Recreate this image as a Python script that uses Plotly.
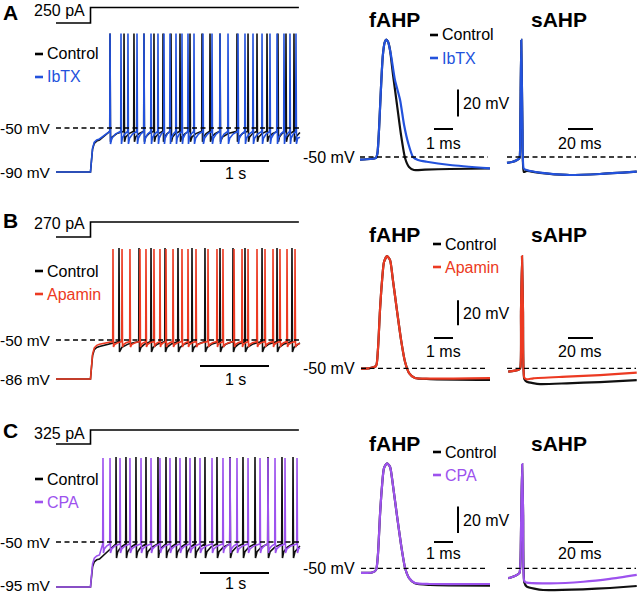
import plotly.graph_objects as go

W, H = 640, 593
FONT = "Liberation Sans, Arial, Helvetica, sans-serif"

# ------------------------------------------------------------------ data
panel_letters = ["A", "B", "C"]
drug_names = ["IbTX", "Apamin", "CPA"]
step_amps_pA = [250, 270, 325]
hold_mV = [-90, -86, -95]
step_on_s = 0.5
trace_end_s = 3.535
stim_end_s = 3.52

# spike times (s) during the current step
spikes_ctrl_A = [0.783, 0.986, 1.130, 1.275, 1.420, 1.551, 1.667, 1.797, 1.942, 2.116,
                 2.232, 2.377, 2.623, 2.783, 2.913, 3.058, 3.217, 3.333, 3.449]
spikes_drug_A = [0.783, 0.942, 1.043, 1.174, 1.275, 1.377, 1.478, 1.565, 1.652, 1.739,
                 1.826, 1.913, 2.000, 2.130, 2.261, 2.377, 2.493, 2.638, 2.739, 2.855,
                 2.986, 3.101, 3.203, 3.304, 3.391, 3.478]
spikes_ctrl_B = [0.913, 1.203, 1.377, 1.580, 1.768, 1.971, 2.159, 2.377, 2.565, 2.739,
                 2.986, 3.203, 3.420]
spikes_drug_B = [0.826, 0.957, 1.072, 1.217, 1.304, 1.420, 1.507, 1.594, 1.696, 1.826,
                 1.913, 2.029, 2.203, 2.333, 2.420, 2.580, 2.696, 2.783, 2.913, 3.029,
                 3.145, 3.246, 3.348, 3.464]
spikes_ctrl_C = [0.870, 1.014, 1.159, 1.304, 1.478, 1.594, 1.739, 1.884, 2.014, 2.159,
                 2.333, 2.522, 2.710, 2.884, 3.072, 3.275, 3.435]
spikes_drug_C = [0.681, 0.783, 0.928, 1.072, 1.232, 1.377, 1.507, 1.652, 1.797, 1.942,
                 2.087, 2.261, 2.420, 2.522, 2.623, 2.783, 2.957, 3.072, 3.174, 3.319,
                 3.493]

# membrane levels (mV): plateau after step, spike threshold, AHP trough, spike peak
levels_ctrl_A = [-61, -53, -62.5, 36]
levels_drug_A = [-60, -53, -64.5, 36]
levels_ctrl_B = [-56, -51.5, -61, 35]
levels_drug_B = [-54, -51.5, -56.5, 34]
levels_ctrl_C = [-67, -52, -66, 35]
levels_drug_C = [-63, -52, -61, 34]

# fAHP single spikes (ms, mV)
fahp_t_ctrl_A = [0, 0.53, 0.84, 0.92, 1.0, 1.1, 1.2, 1.3, 1.38, 1.47, 1.58, 1.74, 1.95, 2.16, 2.37, 2.58, 2.84, 3.42, 4.74, 6.84]
fahp_v_ctrl_A = [-51.9, -51.5, -50.7, -47, -30, 0, 25, 35, 37, 35.5, 29.3, 10.7, -11.5, -33.7, -50.7, -57.4, -59.6, -59.3, -58.9, -58.5]
fahp_t_drug_A = [0, 0.53, 0.84, 0.92, 1.0, 1.1, 1.2, 1.3, 1.38, 1.47, 1.63, 1.84, 2.11, 2.32, 2.54, 2.79, 3.05, 3.51, 4.74, 6.84]
fahp_v_drug_A = [-51.9, -51.5, -50.7, -47, -30, 0, 25, 35, 37, 35.5, 25.6, 7, -7.8, -26.3, -39.9, -50, -52.2, -53.5, -55.9, -58.4]

fahp_t_ctrl_B = [0, 0.47, 0.79, 0.89, 1.0, 1.11, 1.21, 1.37, 1.53, 1.68, 1.89, 2.11, 2.32, 2.53, 2.84, 3.63, 6.79]
fahp_v_ctrl_B = [-50.2, -49.8, -48.2, -35.4, -3.4, 20.6, 35, 39.8, 36.6, 20.6, -3.4, -27.4, -45, -53.8, -57.8, -58.6, -59.2]
fahp_t_drug_B = [0, 0.47, 0.79, 0.89, 1.0, 1.11, 1.21, 1.37, 1.53, 1.68, 1.89, 2.11, 2.32, 2.53, 2.84, 3.63, 6.79]
fahp_v_drug_B = [-50.2, -49.8, -48.2, -35.4, -3.4, 20.6, 35, 39.8, 36.6, 20.6, -3.4, -27.4, -45, -53.8, -57.8, -58.2, -57.8]

fahp_t_ctrl_C = [0, 0.58, 0.79, 0.89, 1.0, 1.11, 1.21, 1.37, 1.53, 1.68, 1.89, 2.11, 2.32, 2.53, 2.84, 3.63, 6.79]
fahp_v_ctrl_C = [-53.5, -53.2, -51.3, -40, -10, 12.6, 25.4, 29, 26.2, 12.6, -10, -32.5, -49.8, -57.3, -61.3, -62.5, -63]
fahp_t_drug_C = [0, 0.58, 0.79, 0.89, 1.0, 1.11, 1.21, 1.37, 1.53, 1.68, 1.89, 2.11, 2.32, 2.53, 2.84, 3.63, 6.79]
fahp_v_drug_C = [-53.5, -53.2, -51.3, -40, -10, 12.6, 25.4, 29, 26.2, 12.6, -10, -32.5, -49.8, -57.3, -61.1, -61.8, -61.8]

# sAHP (ms, mV)
sahp_t_ctrl_A = [0, 4, 8, 10, 10.6, 11.4, 12.4, 13.4, 15.8, 26.4, 47.8, 74.4, 103.8]
sahp_v_ctrl_A = [-54.4, -53.7, -52.2, -50.7, -30, 36.7, -30, -61, -60.3, -61.8, -63.3, -62.6, -60.9]
sahp_t_drug_A = [0, 4, 8, 10, 10.6, 11.4, 12.4, 13.4, 15.8, 26.4, 47.8, 74.4, 103.8]
sahp_v_drug_A = [-54.4, -53.7, -52.2, -50.7, -30, 36.7, -30, -58.5, -59.6, -61.6, -63.3, -62.6, -60.9]

sahp_t_ctrl_B = [1, 8.8, 10.6, 11.2, 12.0, 12.8, 13.8, 15.8, 26.4, 47.8, 74.4, 103.8]
sahp_v_ctrl_B = [-52.7, -51.4, -49.8, -5, 39.8, -5, -58.5, -60.7, -62.6, -62, -61, -59.4]
sahp_t_drug_B = [1, 8.8, 10.6, 11.2, 12.0, 12.8, 13.8, 15.8, 21, 47.8, 74.4, 103.8]
sahp_v_drug_B = [-52.7, -51.4, -49.8, -5, 39.8, -5, -57.5, -58.8, -58, -56.7, -55.4, -53.5]

sahp_t_ctrl_C = [1, 6.4, 10, 10.8, 11.4, 12.1, 12.9, 13.8, 15.8, 28.8, 60.8, 82.4, 103.8]
sahp_v_ctrl_C = [-57.5, -55.8, -53.5, -43.8, -10, 28.4, -10, -60.5, -63.8, -66.3, -65.8, -64.8, -63.3]
sahp_t_drug_C = [1, 6.4, 10, 10.8, 11.4, 12.1, 12.9, 13.8, 15.8, 34.4, 61, 82.4, 103.8]
sahp_v_drug_C = [-57.5, -55.8, -53.5, -43.8, -10, 28.4, -10, -59.5, -60.8, -61.3, -60.1, -58, -55]

# ------------------------------------------------------------------ styles / geometry
drug_colors = ["#2352dc", "#ec3a22", "#9d52ee"]
CTRL = "#101010"

ROWS = [
    dict(stim_py=(0, 32), stim_lo=23, stim_hi=7.5, lab_py=10, main_py=(25, 185), main_ref=128, main_k=1.1,
         ap_py=(25, 185), ap_ref=157, ap_k=1.35, f_t0=360, leg_py=(54, 77), fleg_py=(35, 58),
         fleg_px=430, title_py=20, sbar_mv=(-20, 0), bar_py=129, bar_lab_py=143, sbar_lab_py=103,
         onesec_py=161, onesec_lab_py=174, hold_py=172, letter_top=0),
    dict(stim_py=(205, 245), stim_lo=237, stim_hi=222, lab_py=223, main_py=(240, 392), main_ref=340, main_k=1.083,
         ap_py=(240, 392), ap_ref=368.3, ap_k=1.25, f_t0=361, leg_py=(271, 294), fleg_py=(244, 267),
         fleg_px=433, title_py=235, sbar_mv=(-15.5, 4.5), bar_py=338, bar_lab_py=351, sbar_lab_py=313,
         onesec_py=366, onesec_lab_py=379, hold_py=379, letter_top=208),
    dict(stim_py=(415, 452), stim_lo=444, stim_hi=430, lab_py=433, main_py=(450, 593), main_ref=542, main_k=1.0,
         ap_py=(450, 593), ap_ref=568.3, ap_k=1.33, f_t0=361, leg_py=(479, 502), fleg_py=(452, 475),
         fleg_px=433, title_py=443, sbar_mv=(-23.5, -3.5), bar_py=542, bar_lab_py=553, sbar_lab_py=520,
         onesec_py=573, onesec_lab_py=583, hold_py=585, letter_top=418),
]
MAIN_X = (50, 305); MAIN_T0 = 56; MAIN_K = 69.0      # px per s
FAHP_X = (352, 496); FAHP_K = 19.0                   # px per ms
SAHP_X = (500, 640); SAHP_T0 = 507; SAHP_K = 1.25    # px per ms

spikes_ctrl = [spikes_ctrl_A, spikes_ctrl_B, spikes_ctrl_C]
spikes_drug = [spikes_drug_A, spikes_drug_B, spikes_drug_C]
levels_ctrl = [levels_ctrl_A, levels_ctrl_B, levels_ctrl_C]
levels_drug = [levels_drug_A, levels_drug_B, levels_drug_C]
fahp_ctrl = [(fahp_t_ctrl_A, fahp_v_ctrl_A), (fahp_t_ctrl_B, fahp_v_ctrl_B), (fahp_t_ctrl_C, fahp_v_ctrl_C)]
fahp_drug = [(fahp_t_drug_A, fahp_v_drug_A), (fahp_t_drug_B, fahp_v_drug_B), (fahp_t_drug_C, fahp_v_drug_C)]
sahp_ctrl = [(sahp_t_ctrl_A, sahp_v_ctrl_A), (sahp_t_ctrl_B, sahp_v_ctrl_B), (sahp_t_ctrl_C, sahp_v_ctrl_C)]
sahp_drug = [(sahp_t_drug_A, sahp_v_drug_A), (sahp_t_drug_B, sahp_v_drug_B), (sahp_t_drug_C, sahp_v_drug_C)]


def build_train(spikes, v_hold, lev):
    """Membrane trace assembled from the read spike times and levels."""
    v_plat, v_thr, v_tr, v_pk = lev
    t = [0.0, step_on_s]
    v = [v_hold, v_hold]
    d = v_plat - v_hold
    for dt, f in [(0.012, 0.3), (0.03, 0.72), (0.055, 0.9), (0.09, 0.97), (0.13, 1.0)]:
        t.append(step_on_s + dt)
        v.append(v_hold + f * d)
    for i, s in enumerate(spikes):
        t += [s - 0.004, s, s + 0.007]
        v += [v_thr, v_pk, v_tr]
        nxt = spikes[i + 1] if i + 1 < len(spikes) else trace_end_s + 0.08
        isi = nxt - s
        for frac, lv in [(0.12, 0.45), (0.45, 0.78)]:
            tt = s + 0.007 + frac * isi
            if tt < trace_end_s:
                t.append(tt)
                v.append(v_tr + lv * (v_thr - v_tr))
    if t[-1] < trace_end_s:
        t.append(trace_end_s)
        v.append(v[-1] + 1.0)
    return t, v


fig = go.Figure()
layout = {}
axis_count = [0]


def add_axes(xdom, x0, xk, ydom, yref_py, yref_v, yk):
    axis_count[0] += 1
    n = axis_count[0]
    xn = "x" if n == 1 else f"x{n}"
    yn = "y" if n == 1 else f"y{n}"
    layout["xaxis" if n == 1 else f"xaxis{n}"] = dict(
        domain=[xdom[0] / W, xdom[1] / W],
        range=[(xdom[0] - x0) / xk, (xdom[1] - x0) / xk],
        visible=False, anchor=yn, fixedrange=True)
    layout["yaxis" if n == 1 else f"yaxis{n}"] = dict(
        domain=[1 - ydom[1] / H, 1 - ydom[0] / H],
        range=[yref_v - (ydom[1] - yref_py) / yk, yref_v + (yref_py - ydom[0]) / yk],
        visible=False, anchor=xn, fixedrange=True)
    return xn, yn


annotations = []
shapes = []


def label(text, px, py, xanchor="center", size=16, color="black", yanchor="middle"):
    annotations.append(dict(text=text, x=px / W, y=1 - py / H, xref="paper", yref="paper",
                            xanchor=xanchor, yanchor=yanchor, showarrow=False, borderpad=0,
                            font=dict(family=FONT, size=size, color=color)))


def legend_entry(text, px, py, color):
    # short thick colored dash followed by the label
    shapes.append(dict(type="line", xref="paper", yref="paper", x0=px / W, x1=(px + 8) / W,
                       y0=1 - py / H, y1=1 - py / H, line=dict(color=color, width=2.6)))
    label(text, px + 11, py, xanchor="left", color=color)


def line_shape(xn, yn, x0, y0, x1, y1, width=2, dash=None):
    ln = dict(color="black", width=width)
    if dash:
        ln["dash"] = dash
    shapes.append(dict(type="line", xref=xn, yref=yn, x0=x0, y0=y0, x1=x1, y1=y1, line=ln))


DASH = "5px,3.5px"

for r, g in enumerate(ROWS):
    col = drug_colors[r]
    # --- stimulus step
    xs, ys = add_axes(MAIN_X, MAIN_T0, MAIN_K, g["stim_py"], g["stim_lo"], 0.0,
                      (g["stim_lo"] - g["stim_hi"]) / step_amps_pA[r])
    fig.add_trace(go.Scatter(x=[0, step_on_s, step_on_s, stim_end_s],
                             y=[0, 0, step_amps_pA[r], step_amps_pA[r]],
                             xaxis=xs, yaxis=ys, mode="lines", line=dict(color="black", width=1.6),
                             showlegend=False, hoverinfo="skip"))
    label(f"{step_amps_pA[r]} pA", 86, g["lab_py"], xanchor="right")
    label(f"<b>{panel_letters[r]}</b>", 10, g["letter_top"], size=21, yanchor="top")

    # --- firing trace
    xm, ym = add_axes(MAIN_X, MAIN_T0, MAIN_K, g["main_py"], g["main_ref"], -50.0, g["main_k"])
    line_shape(xm, ym, 0, -50, trace_end_s, -50, width=1.3, dash=DASH)
    for spk, lev, c in [(spikes_ctrl[r], levels_ctrl[r], CTRL), (spikes_drug[r], levels_drug[r], col)]:
        t, v = build_train(spk, hold_mV[r], lev)
        fig.add_trace(go.Scatter(x=t, y=v, xaxis=xm, yaxis=ym, mode="lines",
                                 line=dict(color=c, width=1.6), showlegend=False, hoverinfo="skip"))
    bar_v = -50 - (g["onesec_py"] - g["main_ref"]) / g["main_k"]
    line_shape(xm, ym, 2.087, bar_v, 3.087, bar_v, width=2)
    label("1 s", 235, g["onesec_lab_py"])
    label("-50 mV", 52, g["main_ref"], xanchor="right", size=15.5)
    label(f"{hold_mV[r]} mV", 52, g["hold_py"], xanchor="right", size=15.5)
    legend_entry("Control", 35, g["leg_py"][0], "black")
    legend_entry(drug_names[r], 35, g["leg_py"][1], col)

    # --- fAHP
    xf, yf = add_axes(FAHP_X, g["f_t0"], FAHP_K, g["ap_py"], g["ap_ref"], -50.0, g["ap_k"])
    line_shape(xf, yf, 0, -50, (488 - g["f_t0"]) / FAHP_K, -50, width=1.3, dash=DASH)
    for (tt, vv), c in [(fahp_ctrl[r], CTRL), (fahp_drug[r], col)]:
        fig.add_trace(go.Scatter(x=tt, y=vv, xaxis=xf, yaxis=yf, mode="lines",
                                 line=dict(color=c, width=2.2, shape="spline", smoothing=0.6),
                                 showlegend=False, hoverinfo="skip"))
    tb = (458 - g["f_t0"]) / FAHP_K
    line_shape(xf, yf, tb, g["sbar_mv"][0], tb, g["sbar_mv"][1], width=2)
    bv = -50 + (g["ap_ref"] - g["bar_py"]) / g["ap_k"]
    t1 = (434 - g["f_t0"]) / FAHP_K
    line_shape(xf, yf, t1, bv, t1 + 1.0, bv, width=2)
    label("1 ms", 443, g["bar_lab_py"])
    label("20 mV", 462, g["sbar_lab_py"], xanchor="left")
    label("-50 mV", 356, g["ap_ref"], xanchor="right")
    label("<b>fAHP</b>", 394, g["title_py"], size=21)
    legend_entry("Control", g["fleg_px"], g["fleg_py"][0], "black")
    legend_entry(drug_names[r], g["fleg_px"], g["fleg_py"][1], col)

    # --- sAHP
    xq, yq = add_axes(SAHP_X, SAHP_T0, SAHP_K, g["ap_py"], g["ap_ref"], -50.0, g["ap_k"])
    line_shape(xq, yq, 0, -50, (636 - SAHP_T0) / SAHP_K, -50, width=1.3, dash=DASH)
    for (tt, vv), c in [(sahp_ctrl[r], CTRL), (sahp_drug[r], col)]:
        fig.add_trace(go.Scatter(x=tt, y=vv, xaxis=xq, yaxis=yq, mode="lines",
                                 line=dict(color=c, width=2.2, shape="spline", smoothing=0.5),
                                 showlegend=False, hoverinfo="skip"))
    ts = (568 - SAHP_T0) / SAHP_K
    line_shape(xq, yq, ts, bv, ts + 20, bv, width=2)
    label("20 ms", 580, g["bar_lab_py"])
    label("<b>sAHP</b>", 559, g["title_py"], size=21)

fig.update_layout(**layout)
fig.update_layout(width=W, height=H, margin=dict(l=0, r=0, t=0, b=0),
                  paper_bgcolor="white", plot_bgcolor="rgba(0,0,0,0)",
                  annotations=annotations, shapes=shapes, showlegend=False,
                  font=dict(family=FONT, size=16, color="black"))
fig.write_html("out.html", config={"displayModeBar": False},
               post_script="document.body.style.margin='0px';document.body.style.overflow='hidden';")
